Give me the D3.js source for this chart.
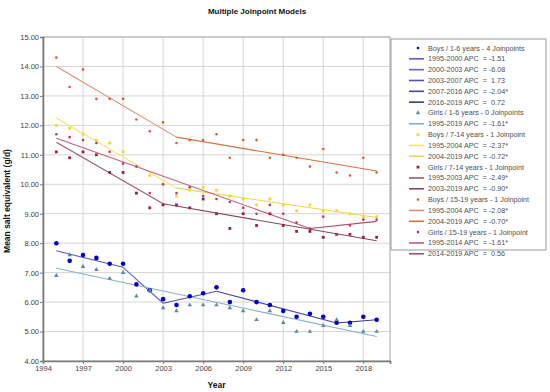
<!DOCTYPE html>
<html>
<head>
<meta charset="utf-8">
<script src="https://cdnjs.cloudflare.com/ajax/libs/d3/7.8.5/d3.min.js"></script>
<style>
  body { margin: 0; background: #fff; }
  svg { font-family: "Liberation Sans", Arial, sans-serif; }
</style>
</head>
<body>
<div id="chart"></div>
<script>
// survey years
var years = [1995, 1996, 1997, 1998, 1999, 2000, 2001, 2002, 2003, 2004, 2005, 2006,
    2007, 2008, 2009, 2010, 2011, 2012, 2013, 2014, 2015, 2016, 2017, 2018, 2019];

// observed values (g/d)
var boys16 = [8.0, 7.4, 7.6, 7.5, 7.3, 7.3, 6.6, 6.4, 6.1, 5.9, 6.2, 6.3, 6.5, 6.0, 6.4, 6.0, 5.9, 5.7, 5.5, 5.6, 5.5, 5.3, 5.3, 5.5, 5.4];
var girls16 = [6.9, 7.6, 7.2, 7.1, 6.8, 7.0, 6.2, 6.4, 5.8, 5.7, 5.9, 5.9, 5.9, 5.8, 5.7, 5.4, 5.7, 5.3, 5.0, 5.0, 5.2, 5.4, 5.2, 5.0, 5.0];
var boys714 = [12.0, 11.9, 11.7, 11.5, 11.4, 11.1, 10.6, 10.3, 10.0, 9.6, 9.8, 9.9, 9.8, 9.6, 9.5, 9.3, 9.5, 9.3, 9.1, 9.3, 9.1, 9.1, 9.0, 8.9, 8.9];
var girls714 = [11.1, 10.9, 11.1, 11.0, 10.4, 10.4, 9.7, 9.2, 9.3, 9.3, 9.2, 9.5, 9.0, 8.5, 9.0, 8.6, 9.0, 8.6, 8.4, 8.4, 8.2, 8.3, 8.3, 8.2, 8.2];
var boys1519 = [14.3, 13.3, 13.9, 12.9, 12.9, 12.9, 12.2, 11.8, 12.1, 11.4, 11.5, 11.5, 11.7, 10.9, 11.5, 11.5, 10.9, 11.0, 10.9, 10.6, 11.2, 10.4, 10.3, 10.9, 10.4];
var girls1519 = [11.7, 11.6, 11.5, 11.4, 11.1, 10.7, 10.6, 9.7, 10.0, 9.7, 9.9, 9.6, 9.5, 9.4, 9.2, 9.0, 9.3, 9.0, 8.7, 8.5, 8.9, 8.3, 8.6, 8.8, 8.8];

// fitted joinpoint models [year, value]
var boys16Fit = [[1995, 7.74], [2000, 7.18], [2003, 5.96], [2007, 6.37], [2016, 5.29], [2019, 5.40]];
var girls16Fit = [[1995, 7.15], [2019, 4.83]];
var boys714Fit = [[1995, 12.25], [2004, 9.87], [2019, 8.87]];
var girls714Fit = [[1995, 11.43], [2003, 9.34], [2019, 8.08]];
var boys1519Fit = [[1995, 14.0], [2004, 11.6], [2019, 10.45]];
var girls1519Fit = [[1995, 11.56], [2014, 8.5], [2019, 8.74]];

var yTicks = [4, 5, 6, 7, 8, 9, 10, 11, 12, 13, 14, 15];
var xTicks = [1994, 1997, 2000, 2003, 2006, 2009, 2012, 2015, 2018];

var series = [
    { name: "Boys / 1-6 years - 4 Joinpoints", vals: boys16, fit: boys16Fit, shape: "circle", color: "#0000c8",
      segColors: ["#5a5acc", "#6262d2", "#5050bc", "#4646a8", "#3a3a92"],
      segLabels: ["1995-2000 APC  = -1.51", "2000-2003 APC  = -6.08", "2003-2007 APC  =  1.73", "2007-2016 APC  = -2.04*", "2016-2019 APC  =  0.72"] },
    { name: "Girls / 1-6 years - 0 Joinpoints", vals: girls16, fit: girls16Fit, shape: "triangle", color: "#5f8aa2",
      segColors: ["#8ab0c8"],
      segLabels: ["1995-2019 APC  = -1.61*"] },
    { name: "Boys / 7-14 years - 1 Joinpoint", vals: boys714, fit: boys714Fit, shape: "square", color: "#eedd22",
      segColors: ["#f4e46a", "#ecd652"],
      segLabels: ["1995-2004 APC  = -2.37*", "2004-2019 APC  = -0.72*"] },
    { name: "Girls / 7-14 years - 1 Joinpoint", vals: girls714, fit: girls714Fit, shape: "square", color: "#9e1f3c",
      segColors: ["#9a5a7a", "#884662"],
      segLabels: ["1995-2003 APC  = -2.49*", "2003-2019 APC  = -0.90*"] },
    { name: "Boys / 15-19 years - 1 Joinpoint", vals: boys1519, fit: boys1519Fit, shape: "dot", color: "#e05a28",
      segColors: ["#da9274", "#d6703c"],
      segLabels: ["1995-2004 APC  = -2.08*", "2004-2019 APC  = -0.70*"] },
    { name: "Girls / 15-19 years - 1 Joinpoint", vals: girls1519, fit: girls1519Fit, shape: "dot", color: "#c43456",
      segColors: ["#c65c78", "#b04866"],
      segLabels: ["1995-2014 APC  = -1.61*", "2014-2019 APC  =  0.56"] }
];

var W = 550, H = 392;
var margin = { top: 37, right: 160, bottom: 31, left: 43 };
var width = W - margin.left - margin.right,
    height = H - margin.top - margin.bottom;

var svg = d3.select("#chart").append("svg")
    .attr("width", W).attr("height", H);

var g = svg.append("g")
    .attr("transform", "translate(" + margin.left + "," + margin.top + ")");

var x = d3.scaleLinear().domain([1994, 2020]).range([0, width]);
var y = d3.scaleLinear().domain([4, 15]).range([height, 0]);

// grid
g.append("g").selectAll("line.hg").data(yTicks).enter().append("line")
    .attr("x1", 0).attr("x2", width)
    .attr("y1", function (d) { return y(d) }).attr("y2", function (d) { return y(d) })
    .attr("stroke", "#d6d6d6").attr("stroke-width", 1);
g.append("g").selectAll("line.vg").data(xTicks).enter().append("line")
    .attr("y1", 0).attr("y2", height)
    .attr("x1", function (d) { return x(d) }).attr("x2", function (d) { return x(d) })
    .attr("stroke", "#d6d6d6").attr("stroke-width", 1);

// frame
g.append("rect").attr("width", width).attr("height", height)
    .attr("fill", "none").attr("stroke", "#a8a8a8");

// axes
var yAxis = g.append("g")
    .call(d3.axisLeft(y).tickValues(yTicks).tickFormat(d3.format(".2f")).tickSize(3).tickPadding(1));
var xAxis = g.append("g").attr("transform", "translate(0," + height + ")")
    .call(d3.axisBottom(x).tickValues(xTicks).tickFormat(d3.format("d")).tickSize(3).tickPadding(2));
[xAxis, yAxis].forEach(function (a) {
    a.select(".domain").attr("stroke", "#7a7a7a").attr("stroke-width", 1.6);
    a.selectAll(".tick line").attr("stroke", "#7a7a7a");
    a.selectAll(".tick text").attr("fill", "#444").style("font-size", "7.5px");
});

// fitted lines
var line = d3.line().x(function (d) { return x(d[0]) }).y(function (d) { return y(d[1]) });
series.forEach(function (s) {
    for (var i = 0; i < s.fit.length - 1; i++) {
        g.append("path")
            .datum([s.fit[i], s.fit[i + 1]])
            .attr("fill", "none")
            .attr("stroke", s.segColors[i])
            .attr("stroke-width", 1.1)
            .attr("d", line);
    }
});

// markers
function drawMarker(sel, shape, color, cx, cy) {
    if (shape == "circle") {
        sel.append("circle").attr("cx", cx).attr("cy", cy).attr("r", 2.3).attr("fill", color);
    } else if (shape == "triangle") {
        sel.append("path").attr("d", d3.symbol().type(d3.symbolTriangle).size(9)())
            .attr("transform", "translate(" + cx + "," + cy + ")").attr("fill", color);
    } else if (shape == "square") {
        sel.append("rect").attr("x", cx - 1.4).attr("y", cy - 1.4).attr("width", 2.8).attr("height", 2.8).attr("fill", color);
    } else {
        sel.append("circle").attr("cx", cx).attr("cy", cy).attr("r", 1.3).attr("fill", color);
    }
}
series.forEach(function (s) {
    var pg = g.append("g");
    s.vals.forEach(function (v, i) {
        drawMarker(pg, s.shape, s.color, x(years[i]), y(v));
    });
});

// titles
svg.append("text").attr("x", 257).attr("y", 14).attr("text-anchor", "middle")
    .style("font-size", "8px").style("font-weight", "bold").attr("fill", "#111")
    .text("Multiple Joinpoint Models");
svg.append("text").attr("x", margin.left + width / 2).attr("y", 388).attr("text-anchor", "middle")
    .style("font-size", "8.5px").style("font-weight", "bold").attr("fill", "#111")
    .text("Year");
svg.append("text").attr("transform", "translate(10," + (margin.top + height / 2 + 2) + ") rotate(-90)")
    .attr("text-anchor", "middle")
    .style("font-size", "8.5px").style("font-weight", "bold").attr("fill", "#111")
    .text("Mean salt equivalent (g/d)");

// legend
var legend = svg.append("g");
legend.append("rect").attr("x", 391).attr("y", 39).attr("width", 155).attr("height", 211)
    .attr("fill", "#fff").attr("stroke", "#9a9a9a");
var rows = [];
series.forEach(function (s) {
    rows.push({ type: "point", shape: s.shape, color: s.color, label: s.name });
    s.segLabels.forEach(function (l, i) {
        rows.push({ type: "line", color: s.segColors[i], label: l });
    });
});
rows.forEach(function (r, i) {
    var cy = 48 + i * 10.83;
    if (r.type == "point") {
        drawMarker(legend, r.shape == "circle" ? "dot" : r.shape, r.color, 418, cy);
    } else {
        legend.append("line").attr("x1", 409).attr("x2", 424).attr("y1", cy).attr("y2", cy)
            .attr("stroke", r.color).attr("stroke-width", 1.6);
    }
    legend.append("text").attr("x", 428).attr("y", cy + 2.5)
        .style("font-size", "7.2px").attr("fill", "#505050").style("white-space", "pre")
        .text(r.label);
});
</script>
</body>
</html>
